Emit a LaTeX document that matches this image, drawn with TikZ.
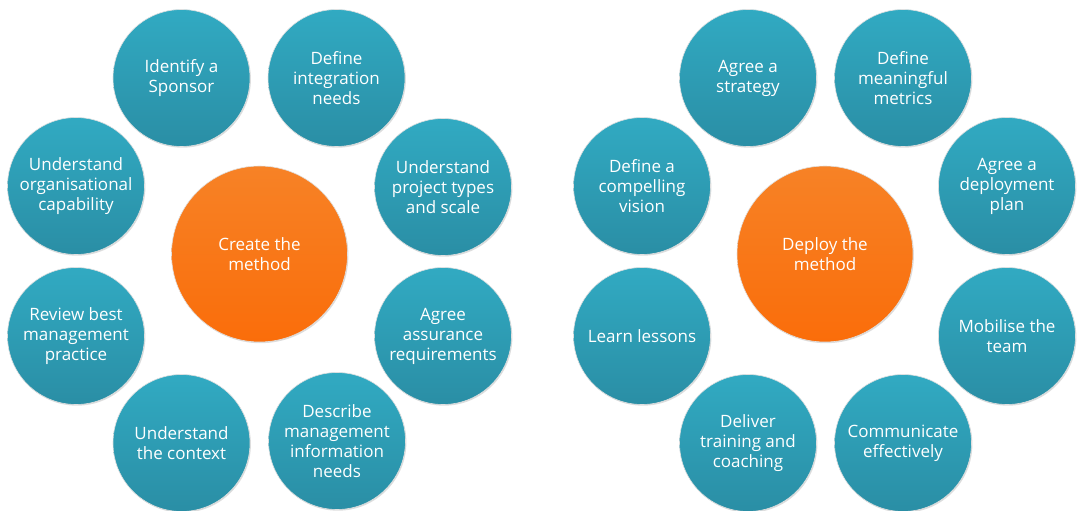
\documentclass[tikz,border=0pt]{standalone}
\usepackage{fontspec}
\setmainfont{Open Sans}
\usetikzlibrary{shadows}
\definecolor{btop}{HTML}{31AAC2}
\definecolor{bbot}{HTML}{2A8EA5}
\definecolor{otop}{HTML}{F78226}
\definecolor{obot}{HTML}{FA6D0A}
\begin{document}
\begin{tikzpicture}[x=1pt,y=-1pt,
  stepcirc/.style={circle, minimum size=137pt, inner sep=0pt, top color=btop, bottom color=bbot,
    draw=black!12, line width=0.6pt, text=white, align=center,
    font=\fontsize{17}{20}\selectfont,
    drop shadow={shadow xshift=0.9pt, shadow yshift=-1.2pt, fill=black!22, opacity=0.6}},
  hubcirc/.style={stepcirc, minimum size=176pt, top color=otop, bottom color=obot}]
\useasboundingbox (0,0) rectangle (1077,511);
% left cluster
\node[hubcirc] (c1) at (259.5,254) {Create the\\method};
\node[stepcirc] (l1) at (181.5,78) {Identify a\\Sponsor};
\node[stepcirc] (l2) at (336.5,78) {Define\\integration\\needs};
\node[stepcirc] (l3) at (76,186) {Understand\\organisational\\capability};
\node[stepcirc] (l4) at (443,187) {Understand\\project types\\and scale};
\node[stepcirc] (l5) at (76,336) {Review best\\management\\practice};
\node[stepcirc] (l6) at (443,336) {Agree\\assurance\\requirements};
\node[stepcirc] (l7) at (181.5,443) {Understand\\the context};
\node[stepcirc] (l8) at (337,441) {Describe\\management\\information\\needs};
% right cluster
\node[hubcirc] (c2) at (825,254) {Deploy the\\method};
\node[stepcirc] (r1) at (748,78) {Agree a\\strategy};
\node[stepcirc] (r2) at (903,78) {Define\\meaningful\\metrics};
\node[stepcirc] (r3) at (642,186) {Define a\\compelling\\vision};
\node[stepcirc] (r4) at (1007,186) {Agree a\\deployment\\plan};
\node[stepcirc] (r5) at (642,336) {Learn lessons};
\node[stepcirc] (r6) at (1007,336) {Mobilise the\\team};
\node[stepcirc] (r7) at (748,443) {Deliver\\training and\\coaching};
\node[stepcirc] (r8) at (903,443) {Communicate\\effectively};
\end{tikzpicture}
\end{document}
